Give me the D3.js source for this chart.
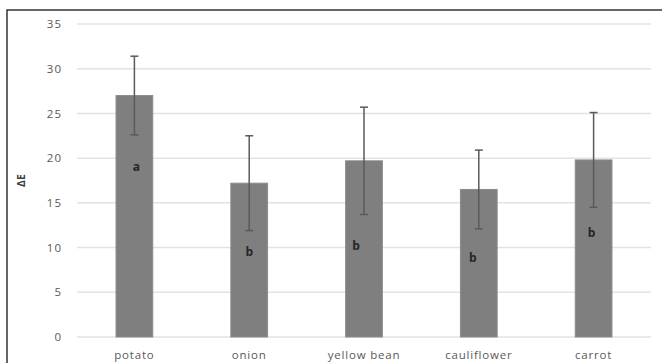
<!DOCTYPE html>
<html>
<head>
<meta charset="utf-8">
<script src="https://cdn.jsdelivr.net/npm/d3@7/dist/d3.min.js"></script>
<style>
  html, body { margin: 0; padding: 0; background: #fff; }
  svg { display: block; }
</style>
</head>
<body>
<svg id="chart" width="662" height="363"></svg>
<script>
// Colour difference (ΔE) per vegetable, with standard deviation and significance group
const categories = ["potato", "onion", "yellow bean", "cauliflower", "carrot"];
const meanDE = [27.0, 17.2, 19.7, 16.5, 19.8];
const sdDE = [4.4, 5.3, 6.0, 4.4, 5.3];
const groups = ["a", "b", "b", "b", "b"];
const groupLabelAt = [19.0, 9.5, 10.2, 8.9, 11.7];
const yTicks = [0, 5, 10, 15, 20, 25, 30, 35];

const svg = d3.select("#chart");
const W = 662, H = 363;
const margin = { left: 77, right: 11, top: 24, bottom: 26 };
const font = "'Open Sans', sans-serif";

// outer frame (open to the right and bottom edges)
svg.append("rect")
  .attr("x", 7).attr("y", 10)
  .attr("width", W).attr("height", H)
  .attr("fill", "none").attr("stroke", "#333").attr("stroke-width", 1.5);

const x = d3.scaleBand()
  .domain(categories)
  .range([margin.left, W - margin.right])
  .paddingInner(0.68).paddingOuter(0.34);

const y = d3.scaleLinear().domain([0, 35]).range([H - margin.bottom, margin.top]);

// horizontal gridlines
svg.append("g").selectAll("line").data(yTicks).join("line")
  .attr("x1", margin.left).attr("x2", W - margin.right)
  .attr("y1", d => y(d)).attr("y2", d => y(d))
  .attr("stroke", "#e3e3e3").attr("stroke-width", 1.5);

// y axis tick labels
const yAxis = d3.axisLeft(y).tickValues(yTicks).tickSize(0).tickPadding(0);
const gy = svg.append("g").attr("transform", "translate(62,0)").call(yAxis);
gy.select(".domain").remove();
gy.selectAll("text")
  .attr("font-family", font).attr("letter-spacing", 1)
  .attr("font-size", 11.5).attr("fill", "#595959");

// x axis category labels
const xAxis = d3.axisBottom(x).tickSize(0).tickPadding(0);
const gx = svg.append("g").attr("transform", `translate(0,${y(0) + 14})`).call(xAxis);
gx.select(".domain").remove();
gx.selectAll("text")
  .attr("font-family", font).attr("letter-spacing", 0.8)
  .attr("font-size", 11.5).attr("fill", "#595959");

// y axis title
svg.append("text")
  .attr("transform", `translate(25,${(y(0) + y(35)) / 2}) rotate(-90)`)
  .attr("text-anchor", "middle")
  .attr("font-family", font)
  .attr("font-weight", "bold")
  .attr("font-size", 10.5).attr("fill", "#404040")
  .text("ΔE");

const rows = categories.map((c, i) => ({ c, m: meanDE[i], sd: sdDE[i], g: groups[i], ly: groupLabelAt[i] }));

// bars
svg.append("g").selectAll("rect").data(rows).join("rect")
  .attr("x", d => x(d.c)).attr("width", x.bandwidth())
  .attr("y", d => y(d.m)).attr("height", d => y(0) - y(d.m))
  .attr("fill", "#7f7f7f").attr("stroke", "#8c8c8c").attr("stroke-width", 1);

// error bars
const eb = svg.append("g").attr("stroke", "#5a5a5a").attr("stroke-width", 1.5);
rows.forEach(d => {
  const cx = x(d.c) + x.bandwidth() / 2;
  eb.append("line").attr("x1", cx).attr("x2", cx).attr("y1", y(d.m + d.sd)).attr("y2", y(d.m - d.sd));
  eb.append("line").attr("x1", cx - 4).attr("x2", cx + 4).attr("y1", y(d.m + d.sd)).attr("y2", y(d.m + d.sd));
  eb.append("line").attr("x1", cx - 4).attr("x2", cx + 4).attr("y1", y(d.m - d.sd)).attr("y2", y(d.m - d.sd));
});

// significance letters
const letterShift = [2, 0, -8, -6, -2];
svg.append("g").selectAll("text").data(rows).join("text")
  .attr("x", (d, i) => x(d.c) + x.bandwidth() / 2 + letterShift[i])
  .attr("y", d => y(d.ly))
  .attr("dy", "0.35em")
  .attr("text-anchor", "middle")
  .attr("font-family", font)
  .attr("font-weight", "bold")
  .attr("font-size", 12).attr("fill", "#262626")
  .text(d => d.g);
</script>
</body>
</html>
